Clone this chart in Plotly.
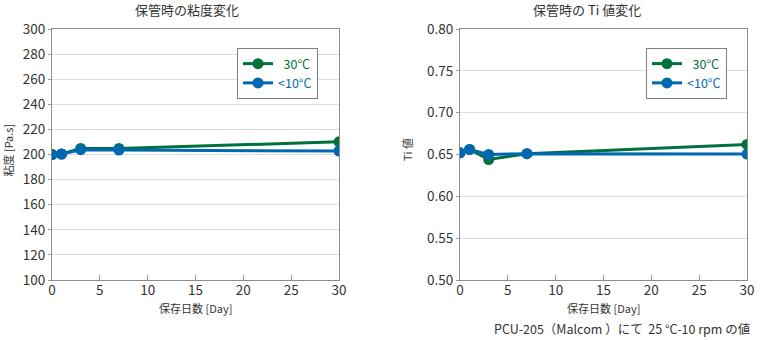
import plotly.graph_objects as go

days = [0, 1, 3, 7, 30]
visc_30 = [200, 200.4, 204.8, 204.8, 210.1]
visc_10 = [200, 200.4, 203.8, 203.5, 202.8]
ti_30 = [0.652, 0.656, 0.644, 0.651, 0.662]
ti_10 = [0.652, 0.656, 0.650, 0.651, 0.6505]
series_labels = ["  30°C", "<10°C"]
green = "#00703c"
blue = "#0068b0"
font = "Noto Sans CJK JP"

fig = go.Figure()
for i, (ys, col) in enumerate([(visc_30, green), (visc_10, blue)]):
    fig.add_trace(go.Scatter(x=days, y=ys, mode="lines+markers",
                             name=f"<span style='color:{col}'>{series_labels[i]}</span>",
                             line=dict(color=col, width=3), marker=dict(color=col, size=11),
                             xaxis="x", yaxis="y", legend="legend"))
for i, (ys, col) in enumerate([(ti_30, green), (ti_10, blue)]):
    fig.add_trace(go.Scatter(x=days, y=ys, mode="lines+markers",
                             name=f"<span style='color:{col}'>{series_labels[i]}</span>",
                             line=dict(color=col, width=3), marker=dict(color=col, size=11),
                             xaxis="x2", yaxis="y2", legend="legend2"))

ax_common = dict(showline=True, linecolor="#8c8c8c", linewidth=1, mirror=True, automargin=False,
                 tickfont=dict(family=font, size=13.5, color="#333"), zeroline=False)
xd = dict(range=[0, 30], tickvals=[0, 5, 10, 15, 20, 25, 30], ticks="inside", ticklen=5,
          tickcolor="#999", showgrid=False, ticklabelstandoff=-2, **ax_common)
ydom = [60/340, 311/340]

leg = dict(y=1-48/340, xanchor="left", yanchor="top", bgcolor="white",
           bordercolor="#7f7f7f", borderwidth=1, tracegroupgap=0, itemwidth=30,
           font=dict(family=font, size=12.5))

fig.update_layout(
    width=760, height=340, margin=dict(l=0, r=0, t=0, b=0, autoexpand=False),
    paper_bgcolor="white", plot_bgcolor="white",
    showlegend=True,
    font=dict(family=font, color="#333"),
    xaxis=dict(domain=[52/760, 339/760], anchor="y", **xd),
    yaxis=dict(domain=ydom, anchor="x", range=[100, 300], dtick=20, ticks="outside", ticklen=3,
               tickcolor="#999", showgrid=True, gridcolor="#dcdcdc", **ax_common),
    xaxis2=dict(domain=[460/760, 747/760], anchor="y2", **xd),
    yaxis2=dict(domain=ydom, anchor="x2", range=[0.5, 0.8], dtick=0.05, tickformat=".2f",
                ticks="outside", ticklen=3, tickcolor="#999", showgrid=True, gridcolor="#dcdcdc", **ax_common),
    legend=dict(x=237/760, **leg),
    legend2=dict(x=646/760, **leg),
)

annots = [
    dict(text="保管時の粘度変化", x=187/760, y=1-9/340, size=13),
    dict(text="保管時の Ti 値変化", x=587/760, y=1-9/340, size=13),
    dict(text="保存日数 [Day]", x=195/760, y=1-308/340, size=11),
    dict(text="保存日数 [Day]", x=603/760, y=1-308/340, size=11),
]
for a in annots:
    fig.add_annotation(text=a["text"], x=a["x"], y=a["y"], xref="paper", yref="paper",
                       showarrow=False, xanchor="center", yanchor="middle",
                       font=dict(family=font, size=a["size"], color="#333"))
fig.add_annotation(text="粘度 [Pa.s]", x=7.5/760, y=1-150/340, xref="paper", yref="paper",
                   showarrow=False, textangle=-90, xanchor="center", yanchor="middle",
                   font=dict(family=font, size=11, color="#333"))
fig.add_annotation(text="Ti 値", x=407/760, y=1-150/340, xref="paper", yref="paper",
                   showarrow=False, textangle=-90, xanchor="center", yanchor="middle",
                   font=dict(family=font, size=11, color="#333"))
fig.add_annotation(text="PCU-205（Malcom ）にて  25 °C-10 rpm の値", x=752/760, y=1-328/340,
                   xref="paper", yref="paper", showarrow=False, xanchor="right", yanchor="middle",
                   font=dict(family=font, size=12.5, color="#333"))

fig.write_html("out.html")
